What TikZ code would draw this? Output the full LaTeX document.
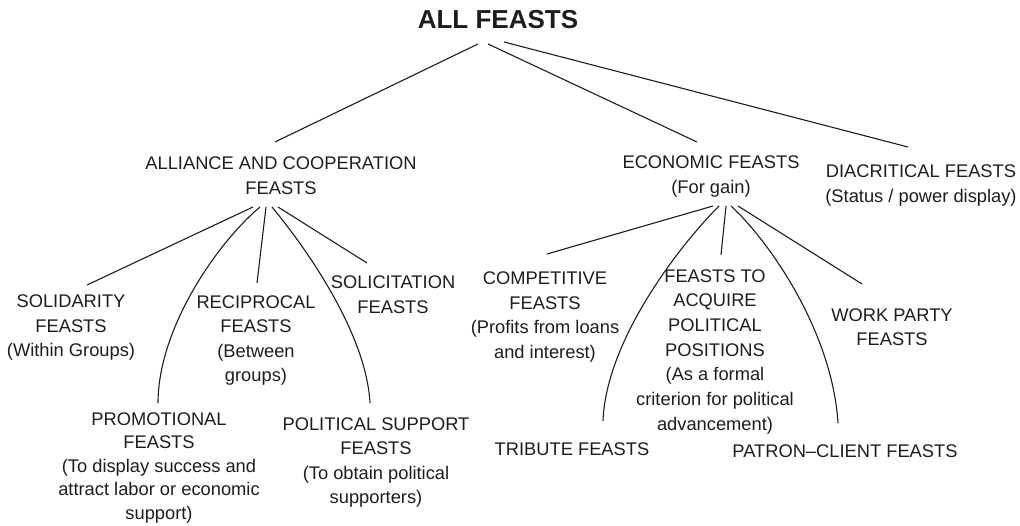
\documentclass[tikz,border=0pt]{standalone}
\usepackage{fontspec}
\setmainfont{Liberation Sans}
\definecolor{ink}{HTML}{1E1C1C}
\begin{document}
\begin{tikzpicture}[x=1pt,y=-1pt,
  lbl/.style={anchor=base,inner sep=0pt,align=center,text=ink,
    font=\fontsize{18.3}{24.5}\selectfont},
  title/.style={anchor=base,inner sep=0pt,text=ink,
    font=\fontsize{26}{30}\selectfont\bfseries},
  link/.style={draw=ink,line width=1.1pt}]
\useasboundingbox (0,0) rectangle (1020,526);

% ---- labels (each placed by the baseline of its last line) ----
\node[title] (all) at (498,29) {ALL FEASTS};
\node[lbl] (alliance) at (281,194.5) {ALLIANCE AND COOPERATION\\FEASTS};
\node[lbl] (economic) at (711,193.5) {ECONOMIC FEASTS\\(For gain)};
\node[lbl] (diacritical) at (921,202.5) {DIACRITICAL FEASTS\\(Status / power display)};

\node[lbl] (solidarity) at (71,356.5) {SOLIDARITY\\FEASTS\\(Within Groups)};
\node[lbl] (reciprocal) at (256,381.5) {RECIPROCAL\\FEASTS\\(Between\\groups)};
\node[lbl] (solicitation) at (393,313.5) {SOLICITATION\\FEASTS};
\node[lbl,font=\fontsize{18.3}{23.5}\selectfont] (promotional) at (159,519)
  {PROMOTIONAL\\FEASTS\\(To display success and\\attract labor or economic\\support)};
\node[lbl] (political) at (376,503.5) {POLITICAL SUPPORT\\FEASTS\\(To obtain political\\supporters)};

\node[lbl] (competitive) at (545,358.5) {COMPETITIVE\\FEASTS\\(Profits from loans\\and interest)};
\node[lbl,font=\fontsize{18.3}{24.7}\selectfont] (acquire) at (715,430.2)
  {FEASTS TO\\ACQUIRE\\POLITICAL\\POSITIONS\\(As a formal\\criterion for political\\advancement)};
\node[lbl] (workparty) at (892,346) {WORK PARTY\\FEASTS};
\node[lbl] (tribute) at (572,455) {TRIBUTE FEASTS};
\node[lbl] (patron) at (845,457.5) {PATRON--CLIENT FEASTS};

% ---- connector ends ----
\coordinate (all-a) at (478,44);
\coordinate (all-e) at (488,44);
\coordinate (all-d) at (504,42);
\coordinate (alliance-in) at (275,142);
\coordinate (economic-in) at (697,142);
\coordinate (diacritical-in) at (908,147);

\coordinate (alliance-1) at (253,207);
\coordinate (alliance-2) at (260,207);
\coordinate (alliance-3) at (266,207);
\coordinate (alliance-4) at (272,207);
\coordinate (alliance-5) at (278,207);
\coordinate (solidarity-in) at (87,285);
\coordinate (promotional-in) at (158,403);
\coordinate (reciprocal-in) at (257,283);
\coordinate (political-in) at (370,403);
\coordinate (solicitation-in) at (367,263);

\coordinate (economic-1) at (713,206);
\coordinate (economic-2) at (719,206);
\coordinate (economic-3) at (726,206);
\coordinate (economic-4) at (731,206);
\coordinate (economic-5) at (738,206);
\coordinate (competitive-in) at (547,254);
\coordinate (tribute-in) at (603,421);
\coordinate (acquire-in) at (721,255);
\coordinate (patron-in) at (838,423);
\coordinate (workparty-in) at (862,284);

% ---- connectors ----
\draw[link] (all-a) -- (alliance-in);
\draw[link] (all-e) -- (economic-in);
\draw[link] (all-d) -- (diacritical-in);

\draw[link] (alliance-1) -- (solidarity-in);
\draw[link] (alliance-2) .. controls (215,245) and (158,330) .. (promotional-in);
\draw[link] (alliance-3) -- (reciprocal-in);
\draw[link] (alliance-4) .. controls (301,242) and (366,330) .. (political-in);
\draw[link] (alliance-5) -- (solicitation-in);

\draw[link] (economic-1) -- (competitive-in);
\draw[link] (economic-2) .. controls (680,245) and (606,340) .. (tribute-in);
\draw[link] (economic-3) -- (acquire-in);
\draw[link] (economic-4) .. controls (768,240) and (832,330) .. (patron-in);
\draw[link] (economic-5) -- (workparty-in);
\end{tikzpicture}
\end{document}
